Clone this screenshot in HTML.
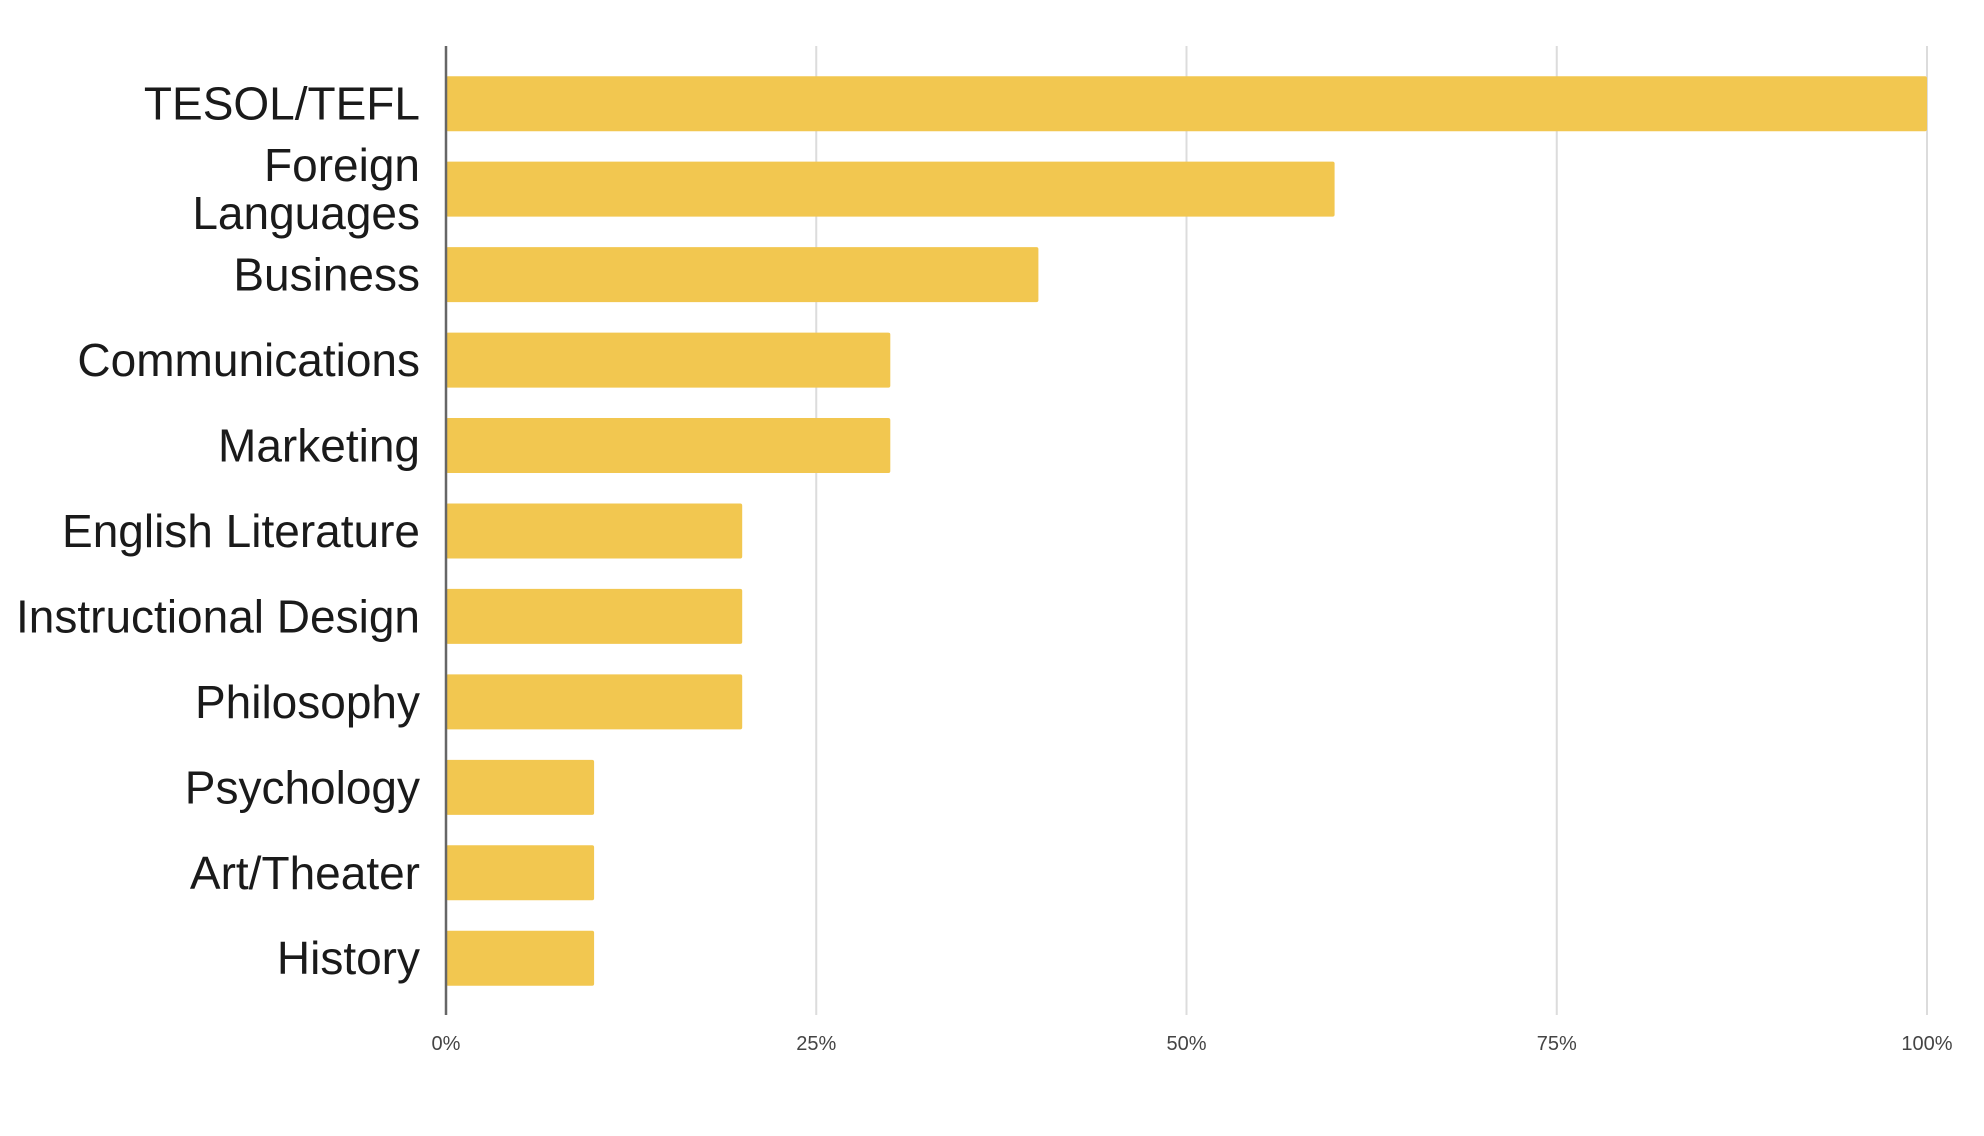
<!DOCTYPE html>
<html><head><meta charset="utf-8"><style>
html,body{margin:0;padding:0;background:#fff;}
svg{display:block;}
</style></head><body>
<svg id="chart" width="1984" height="1136" viewBox="0 0 1984 1136" xmlns="http://www.w3.org/2000/svg" font-family="'Liberation Sans', sans-serif">
<g id="grid"></g>
<g id="bars"></g>
<g id="ylabels"></g>
<g id="xlabels"></g>
</svg>
<script>
const categories = ["TESOL/TEFL", "Foreign\nLanguages", "Business", "Communications", "Marketing", "English Literature", "Instructional Design", "Philosophy", "Psychology", "Art/Theater", "History"];
const values = [100, 60, 40, 30, 30, 20, 20, 20, 10, 10, 10];
const ticks = [0, 25, 50, 75, 100];
const tickLabels = ["0%", "25%", "50%", "75%", "100%"];

const NS = "http://www.w3.org/2000/svg";
const x0 = 446, x1 = 1927, yTop = 46, yBot = 1015;
const bandStart = 61, step = 85.45, barH = 55;
function xScale(v){ return x0 + (v/100)*(x1-x0); }
function yCenter(i){ return bandStart + step*(i+0.5); }
function mk(tag, attrs){ const e=document.createElementNS(NS,tag); for(const k in attrs) e.setAttribute(k,attrs[k]); return e; }

const grid=document.getElementById('grid');
ticks.forEach((t,i)=>{
  if(t===0) return;
  const l=mk('line',{x1:xScale(t),x2:xScale(t),y1:yTop,y2:yBot,stroke:'#dcdcdc','stroke-width':2});
  
  
  grid.appendChild(l);
});
const bars=document.getElementById('bars');
values.forEach((v,i)=>{
  const r=mk('rect',{x:x0,y:yCenter(i)-barH/2,width:xScale(v)-x0,height:barH,fill:'#f2c750',rx:2});
  
  
  bars.appendChild(r);
});
const axis=mk('line',{x1:x0,x2:x0,y1:yTop,y2:yBot,stroke:'#666','stroke-width':2.5});


document.getElementById('chart').appendChild(axis);

const yl=document.getElementById('ylabels');
categories.forEach((c,i)=>{
  const lines=c.split('\n');
  const lh=48;
  const t=mk('text',{x:420,'text-anchor':'end','font-size':46,fill:'#1a1a1a'});
  
  
  lines.forEach((ln,j)=>{
    const ts=mk('tspan',{x:420,y:yCenter(i)+16+(j-(lines.length-1)/2)*lh});
    ts.textContent=ln;
    t.appendChild(ts);
  });
  yl.appendChild(t);
});
const xl=document.getElementById('xlabels');
ticks.forEach((t,i)=>{
  const tx=mk('text',{x:xScale(t),y:1050,'text-anchor':'middle','font-size':20,fill:'#444'});
  
  
  tx.textContent=tickLabels[i];
  xl.appendChild(tx);
});
</script>
</body></html>
